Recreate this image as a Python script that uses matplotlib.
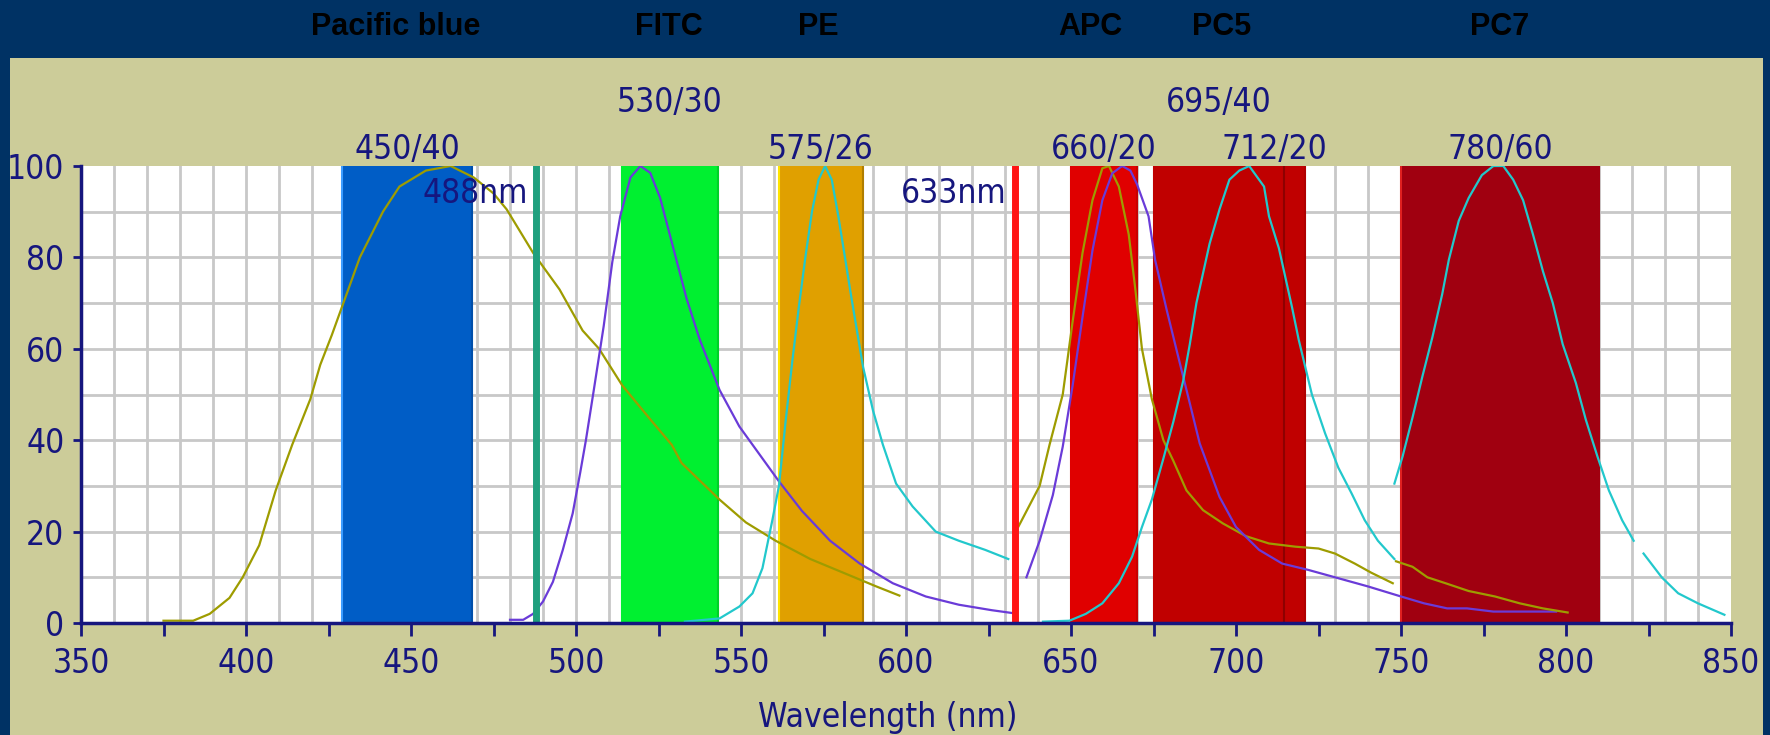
import numpy as np
import matplotlib
matplotlib.use("Agg")
import matplotlib.pyplot as plt
import matplotlib.transforms as mtransforms
from matplotlib import font_manager as fm
from matplotlib.patches import Rectangle
from matplotlib.ticker import MultipleLocator, FixedLocator, FuncFormatter

# colours
NAVY_BG = "#003264"
KHAKI = "#CCCC99"
NAVY_TXT = "#16167E"
GRID = "#C8C8C8"
OLIVE = "#9E9C00"
PURPLE = "#6A3BD8"
CYAN = "#22C8CC"

# dye names shown in the top banner, and where they sit (nm)
dye_names = ["Pacific blue", "FITC", "PE", "APC", "PC5", "PC7"]
dye_pos = [445.5, 528, 573.5, 656, 695.5, 780]

# filter bands
filter_names = ["450/40", "530/30", "575/26", "712/20", "660/20", "695/40", "780/60"]
filter_lo = [429, 514, 561.5, 702, 650, 675, 750]
filter_hi = [468.5, 543, 587, 721, 670, 714.5, 810]
filter_row = [0, 1, 0, 0, 0, 1, 0]
filter_color = ["#005DC6", "#00F030", "#E0A000", "#C00000", "#E00000", "#C00000", "#A00010"]
filter_left = ["#3C9CFF", "#00F030", "#FFE400", "#C00000", "#E00000", "#C00000", "#E02020"]
filter_right = ["#004FAA", "#00D028", "#B07E00", "#B00000", "#C80000", "#8E0000", "#A00010"]

# laser lines
laser_nm = [488, 633]
laser_color = ["#1FA07E", "#FF1414"]
laser_text = ["488nm", "633nm"]

# spectra
olive_a_wl = [375, 384, 389, 395, 399, 404, 409, 414, 419.5, 422.5, 426, 430, 434.5, 441.5,
              446.5, 454.5, 462, 469, 475, 479, 487, 495, 502, 507, 514, 522, 529, 532, 543.5,
              551.5, 560.5, 571, 581, 591, 598]
olive_a_val = [0.5, 0.5, 2, 5.5, 10, 17, 29, 39, 49, 56.5, 63, 71, 80, 90, 95.5, 99, 100, 97.5,
               94, 90.5, 81, 73, 64, 60, 52, 45, 39, 35, 27, 22, 18, 14, 11, 8, 6]

purple_a_wl = [480, 484, 487, 490, 493, 496, 499, 501.3, 503, 505.4, 508.4, 511, 513.4, 516.5,
               519.5, 522.5, 525.5, 529.5, 533.5, 537.5, 543.5, 549.5, 555.5, 561.5, 568.5, 577,
               586, 596, 606, 616, 626, 633]
purple_a_val = [0.7, 0.7, 2, 4.7, 9, 16, 24, 33, 40, 51, 65, 79, 89, 97.5, 100, 98.5, 93, 82, 71,
                62, 51, 43, 37, 31, 24.5, 18, 13, 8.7, 5.8, 4, 2.8, 2.1]

cyan_a_wl = [533, 543.5, 549.5, 553.5, 556.5, 559.5, 561.5, 563.5, 565.5, 567.5, 569.5, 571.5,
             573.5, 575.5, 577.5, 579.5, 581.5, 583.5, 587, 590, 593, 597, 602, 609, 616, 624, 631]
cyan_a_val = [0.3, 1, 3.6, 6.5, 12, 22.5, 30, 44, 57, 69, 80, 90, 97, 100, 97, 89, 80, 71, 56,
              46.5, 39, 30.5, 25.5, 20, 18, 16, 14]

olive_b_wl = [634, 640.5, 643.5, 647.5, 650.5, 653.5, 656.5, 659.5, 661.5, 664.5, 667.5, 669.5,
              671.5, 674.5, 678, 681, 685, 690, 696, 703, 710, 718, 725, 730, 736, 741, 747.5]
olive_b_val = [21, 30, 39, 50, 66, 81, 92.5, 99.5, 100, 95.5, 85, 73, 60, 49, 40, 35.5, 29, 24.7,
               21.8, 19, 17.4, 16.7, 16.3, 15.2, 13, 11, 8.7]

purple_b_wl = [636.5, 640.5, 644.5, 647.5, 650.5, 653.5, 656.5, 659.5, 662.5, 665.5, 668, 670,
               673.5, 675.5, 679, 682, 685, 689, 695, 700, 707, 714, 722, 730, 740, 750, 757,
               764, 770, 778, 797]
purple_b_val = [10, 18, 28, 38.6, 52, 67, 81.5, 92.5, 98.4, 100, 99, 96, 89, 79.4, 68.5, 59.7, 51,
                39.3, 27.6, 21, 16, 13, 11.6, 10, 8, 5.8, 4.3, 3.2, 3.2, 2.5, 2.5]

cyan_b_wl = [641.5, 649.5, 654.5, 659.5, 664.5, 668.5, 671.5, 674.5, 678, 681, 684, 686, 688, 692,
             695, 698, 701, 704, 707, 708.5, 710, 713, 717, 719, 721, 723, 727, 731, 735, 739,
             743, 748]
cyan_b_val = [0.3, 0.5, 2, 4.3, 8.7, 14.5, 21, 27, 36, 44, 53, 61, 70, 83, 90.5, 97, 99, 100, 97,
              95.5, 89, 82, 69, 62, 56, 50, 41.5, 34, 28.4, 22.5, 18, 14]

olive_c_wl = [748.5, 753.5, 758, 763.5, 770.5, 778.5, 786, 793, 800.5]
olive_c_val = [13.5, 12.3, 10, 8.7, 7, 5.8, 4.3, 3.2, 2.3]

cyan_c_wl = [748, 750.5, 753.5, 756.5, 759.5, 762.5, 764.5, 767.5, 770.5, 774.5, 778, 781, 784,
             787, 790, 793, 796, 799, 803, 806, 809.5, 813, 817, 820.5]
cyan_c_val = [30.5, 36.5, 45, 54, 62.5, 72, 79.5, 88, 93, 98, 100, 100, 97, 92.5, 85, 77, 70, 61,
              52.5, 44.5, 36.5, 29, 22.5, 18]

cyan_d_wl = [823.5, 829, 834, 840, 848]
cyan_d_val = [15.2, 10, 6.5, 4.3, 1.8]

curves = [
    (olive_a_wl, olive_a_val, OLIVE),
    (purple_a_wl, purple_a_val, PURPLE),
    (cyan_a_wl, cyan_a_val, CYAN),
    (olive_b_wl, olive_b_val, OLIVE),
    (purple_b_wl, purple_b_val, PURPLE),
    (cyan_b_wl, cyan_b_val, CYAN),
    (olive_c_wl, olive_c_val, OLIVE),
    (cyan_c_wl, cyan_c_val, CYAN),
    (cyan_d_wl, cyan_d_val, CYAN),
]

# the original uses a tall narrow font; pick a narrow face if one is there
fonts = {(f.name, f.stretch) for f in fm.fontManager.ttflist}
names = {n for n, s in fonts}
stretch = "normal"
if "Liberation Sans Narrow" in names:
    FAM, FS = "Liberation Sans Narrow", 25
elif "DejaVu Sans Condensed" in names:
    FAM, FS = "DejaVu Sans Condensed", 24
elif ("DejaVu Sans", "condensed") in fonts:
    FAM, FS, stretch = "DejaVu Sans", 24, "condensed"
else:
    FAM, FS = "DejaVu Sans", 21

plt.rcParams["font.family"] = [FAM, "DejaVu Sans"]
plt.rcParams["font.stretch"] = stretch

fig = plt.figure(figsize=(17.7, 7.35), dpi=100, facecolor=NAVY_BG)
# khaki panel below the banner
fig.add_artist(Rectangle((10 / 1770, 0), 1753 / 1770, 677 / 735, transform=fig.transFigure,
                         facecolor=KHAKI, edgecolor="none", zorder=-1))

ax = fig.add_axes([81 / 1770, 1 - 623 / 735, 1650 / 1770, 457 / 735])
ax.set_facecolor("white")
ax.set_xlim(350, 850)
ax.set_ylim(0, 100)

# bands
for lo, hi, c, cl, cr in zip(filter_lo, filter_hi, filter_color, filter_left, filter_right):
    ax.axvspan(lo, hi, color=c, lw=0, zorder=1)
    ax.plot([lo, lo], [0, 100], color=cl, lw=1.5, zorder=1.1, solid_capstyle="butt")
    ax.plot([hi, hi], [0, 100], color=cr, lw=1.5, zorder=1.1, solid_capstyle="butt")

# filter labels above the plot
row_y = [101.6, 111.8]
for name, lo, hi, r in zip(filter_names, filter_lo, filter_hi, filter_row):
    ax.text((lo + hi) / 2, row_y[r], name, ha="center", va="baseline", fontsize=FS,
            color=NAVY_TXT, clip_on=False)

for wl, val, c in curves:
    ax.plot(wl, val, color=c, lw=1.6, zorder=3)

for nm, c, t in zip(laser_nm, laser_color, laser_text):
    ax.axvline(nm, color=c, lw=5, zorder=4)
    ax.text(nm - 2.5, 91.9, t, ha="right", va="baseline", fontsize=FS, color=NAVY_TXT, zorder=5)

# dye names in the banner
trans = mtransforms.blended_transform_factory(ax.transData, fig.transFigure)
for name, x in zip(dye_names, dye_pos):
    ax.text(x, 0.9626, name, transform=trans, ha="center", va="center", fontsize=22,
            fontweight="bold", family=["Liberation Sans", "DejaVu Sans"], fontstretch="normal",
            color="black", clip_on=False)

# grid every 10, ticks every 25 with labels every 50
ax.xaxis.set_major_locator(MultipleLocator(25))
ax.xaxis.set_major_formatter(FuncFormatter(lambda v, p: f"{v:.0f}" if v % 50 == 0 else ""))
ax.xaxis.set_minor_locator(FixedLocator(np.arange(360, 850, 10)))
ax.yaxis.set_major_locator(MultipleLocator(20))
ax.yaxis.set_minor_locator(FixedLocator(np.arange(10, 100, 10)))
ax.xaxis.remove_overlapping_locs = False
ax.yaxis.remove_overlapping_locs = False
ax.set_axisbelow(True)
ax.grid(False)
ax.grid(which="minor", color=GRID, lw=2)

ax.tick_params(axis="both", which="minor", length=0)
ax.tick_params(axis="x", which="major", direction="out", length=9, width=2, color=NAVY_TXT,
               labelsize=FS, labelcolor=NAVY_TXT, pad=8)
ax.tick_params(axis="y", which="major", direction="out", length=6, width=2, color=NAVY_TXT,
               labelsize=FS, labelcolor=NAVY_TXT, pad=6)

for s in ["top", "right"]:
    ax.spines[s].set_visible(False)
for s in ["left", "bottom"]:
    ax.spines[s].set_color(NAVY_TXT)
    ax.spines[s].set_linewidth(2.5)
    ax.spines[s].set_zorder(6)

ax.set_xlabel("Wavelength (nm)", fontsize=FS, color=NAVY_TXT, va="center")
ax.xaxis.set_label_coords(0.489, -0.206)

fig.savefig("out.png", dpi=100, facecolor=NAVY_BG)
